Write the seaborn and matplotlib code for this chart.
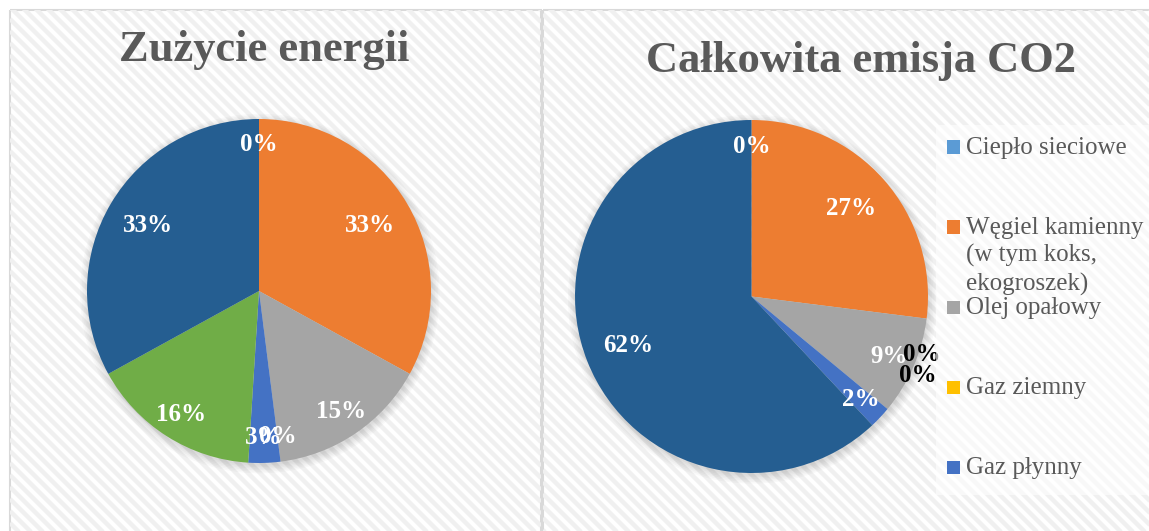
import numpy as np
import matplotlib
matplotlib.use("Agg")
import matplotlib.pyplot as plt
import seaborn as sns
from matplotlib.patches import Rectangle, Circle

# data
categories = ["Ciepło sieciowe", "Węgiel kamienny\n(w tym koks,\nekogroszek)", "Olej opałowy",
              "Gaz ziemny", "Gaz płynny", "Drewno", "Energia elektryczna"]
energy_pct = [0, 33, 15, 0, 3, 16, 33]
co2_pct = [0, 27, 9, 0, 2, 0, 62]
titles = ["Zużycie energii", "Całkowita emisja CO2"]
n_legend = 5  # only the first five categories fit in the legend

colors = ["#5B9BD5", "#ED7D31", "#A5A5A5", "#FFC000", "#4472C4", "#70AD47", "#255E91"]
txt_grey = "#595959"

sns.set_style("white")
plt.rcParams["font.family"] = ["Liberation Serif", "DejaVu Serif"]

W, H = 1149, 531
fig = plt.figure(figsize=(W / 100, H / 100), dpi=100)

# striped background panels
bg = fig.add_axes([0, 0, 1, 1], zorder=-1)
bg.set_xlim(0, W)
bg.set_ylim(H, 0)
bg.axis("off")
for x0, y0, x1, y1 in [(10, 10, 541, H + 2), (543, 10, W + 2, H + 2)]:
    rect = Rectangle((x0, y0), x1 - x0, y1 - y0, facecolor="white", edgecolor="none")
    bg.add_patch(rect)
    for c in np.arange(-(x1 - x0), (y1 - y0) + 12, 12):
        ln, = bg.plot([x0, x1], [y0 + c, y0 + c + (x1 - x0)], color="#f0f0f0", lw=3.2,
                      solid_capstyle="butt")
        ln.set_clip_path(rect)
    bg.add_patch(Rectangle((x0, y0), x1 - x0, y1 - y0, facecolor="none",
                           edgecolor="#d9d9d9", lw=1.5))


def draw_pie(values, left, top, size, outside=None):
    ax = fig.add_axes([left / W, 1 - (top + size) / H, size / W, size / H])
    # soft shadow
    for i in range(6):
        ax.add_patch(Circle((0.005, -0.015), 1.0 + 0.009 * i, color="black", alpha=0.025,
                            lw=0, zorder=0, clip_on=False))
    wedges, _ = ax.pie(values, colors=colors, startangle=90, counterclock=False,
                       wedgeprops=dict(linewidth=0))
    for w in wedges:
        w.set_zorder(1)
    ax.set_xlim(-1, 1)
    ax.set_ylim(-1, 1)
    ax.axis("off")
    for i, (w, v) in enumerate(zip(wedges, values)):
        if outside and i in outside:
            x, y = outside[i]
            col = "black"
        else:
            ang = np.deg2rad((w.theta1 + w.theta2) / 2)
            d = 0.75 if v >= 25 else 0.85
            x, y = d * np.cos(ang), d * np.sin(ang)
            col = "white"
        ax.text(x, y, f"{v}%", ha="center", va="center", color=col, fontsize=18,
                fontweight="bold", zorder=3, clip_on=False)
    return ax


draw_pie(energy_pct, 87, 119, 344)
draw_pie(co2_pct, 575, 120, 353, outside={3: (0.965, -0.33), 5: (0.945, -0.445)})

# titles
fig.text(264 / W, 1 - 61 / H, titles[0], ha="center", va="baseline", fontsize=32,
         fontweight="bold", color=txt_grey)
fig.text(861 / W, 1 - 72 / H, titles[1], ha="center", va="baseline", fontsize=32,
         fontweight="bold", color=txt_grey)

# legend box and entries
fig.add_artist(Rectangle((936 / W, 1 - 495 / H), (W - 936) / W, 370 / H,
                         transform=fig.transFigure, facecolor="white", alpha=0.6,
                         edgecolor="none", zorder=5))
for i in range(n_legend):
    yc = 147 + 80 * i
    fig.add_artist(Rectangle((947 / W, 1 - (yc + 6.5) / H), 13 / W, 13 / H,
                             transform=fig.transFigure, facecolor=colors[i],
                             edgecolor="none", zorder=6))
    fig.text(966 / W, 1 - (yc - 10) / H, categories[i], ha="left", va="top", fontsize=18,
             color=txt_grey, zorder=6, linespacing=1.3)

fig.savefig("out.png", dpi=100)
